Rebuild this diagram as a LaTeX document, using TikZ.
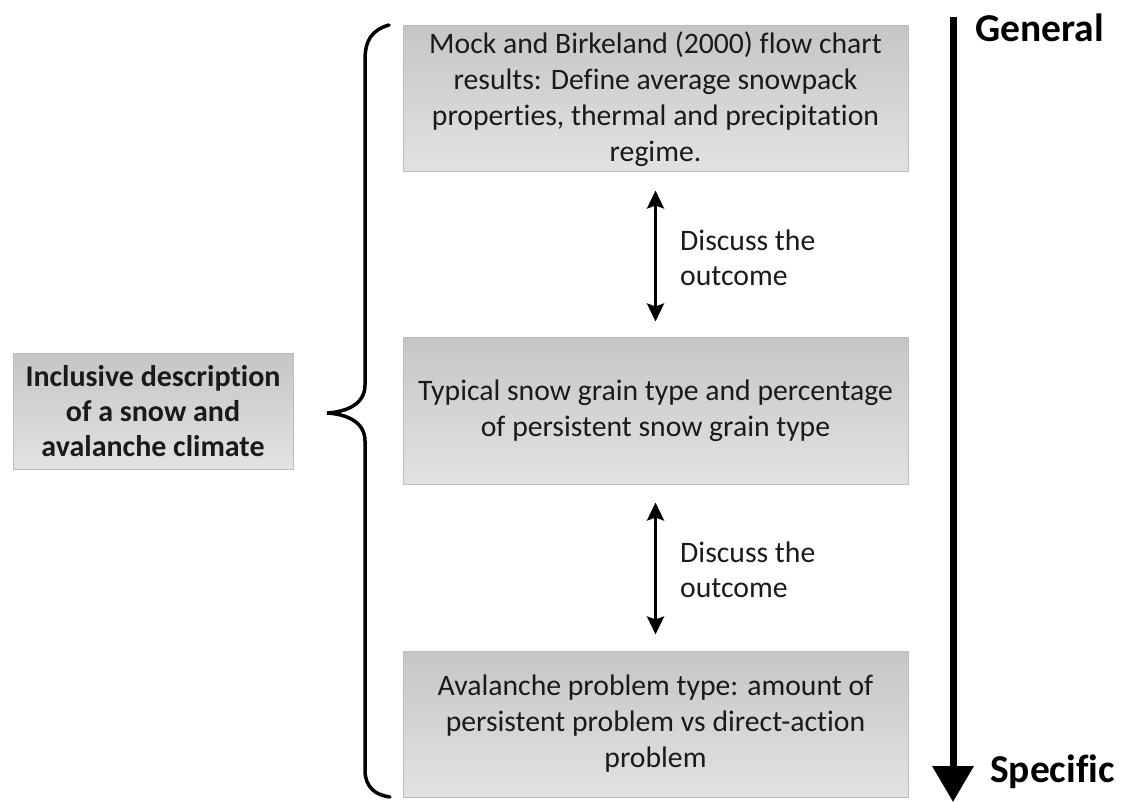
\documentclass[tikz,border=0pt]{standalone}
\usepackage{fontspec}
\setmainfont[Ligatures={NoCommon}]{Carlito}
\usetikzlibrary{arrows.meta,shadings}
\definecolor{boxtop}{HTML}{C6C6C6}
\definecolor{boxbot}{HTML}{E2E2E2}
\definecolor{boxline}{HTML}{BDBDBD}
\definecolor{txt}{HTML}{1A1A1A}
\tikzset{
  gbox/.style={rectangle, draw=boxline, line width=1pt, top color=boxtop, bottom color=boxbot,
    minimum width=505pt, minimum height=146pt, align=center, inner sep=0pt,
    font=\fontsize{29.7}{36}\selectfont, text=txt},
  lbox/.style={gbox, minimum width=280pt, minimum height=115pt,
    font=\fontsize{30}{35}\selectfont\bfseries},
  dlabel/.style={anchor=west, align=left, inner sep=0pt, font=\fontsize{29.7}{35}\selectfont, text=txt},
  endlabel/.style={anchor=west, inner sep=0pt, font=\fontsize{39.5}{42}\selectfont\bfseries, text=black},
  dbl/.style={line width=3pt, {Stealth[width=17pt,length=18pt,inset=3pt]}-{Stealth[width=17pt,length=18pt,inset=3pt]}},
  big/.style={line width=7pt, -{Triangle[width=40pt,length=36pt]}},
  brace/.style={line width=3.5pt, line cap=round}
}
\begin{document}
\begin{tikzpicture}[x=1pt,y=-1pt]
\useasboundingbox (0,0) rectangle (1125,802);
\node[gbox] (b1) at (655.5,99) {Mock and Birkeland (2000) flow chart\\results: Define average snowpack\\properties, thermal and precipitation\\regime.};
\node[gbox] (b2) at (655.5,411) {Typical snow grain type and percentage\\of persistent snow grain type};
\node[gbox] (b3) at (655.5,724) {Avalanche problem type: amount of\\persistent problem vs direct-action\\problem};
\node[lbox] (l) at (153,411.5) {Inclusive description\\of a snow and\\avalanche climate};
\draw[dbl, shorten <=18pt, shorten >=16pt] (b1.south) -- (b2.north);
\draw[dbl, shorten <=18pt, shorten >=16pt] (b2.south) -- (b3.north);
\node[dlabel] (d1) at (680,258) {Discuss the\\outcome};
\node[dlabel] (d2) at (680,570) {Discuss the\\outcome};
\draw[brace] (389,25) .. controls (372,30) and (365,40) .. (365,60) -- (365,385)
  .. controls (365,405) and (345,412) .. (327,413)
  .. controls (345,414) and (365,421) .. (365,441) -- (365,770)
  .. controls (365,787) and (375,795) .. (390,797);
\coordinate (gtop) at (953,17);
\coordinate (gbot) at (953,802);
\draw[big] (gtop) -- (gbot);
\node[endlabel] (gen) at (975,28) {General};
\node[endlabel] (spe) at (990,772) {Specific};
\end{tikzpicture}
\end{document}
